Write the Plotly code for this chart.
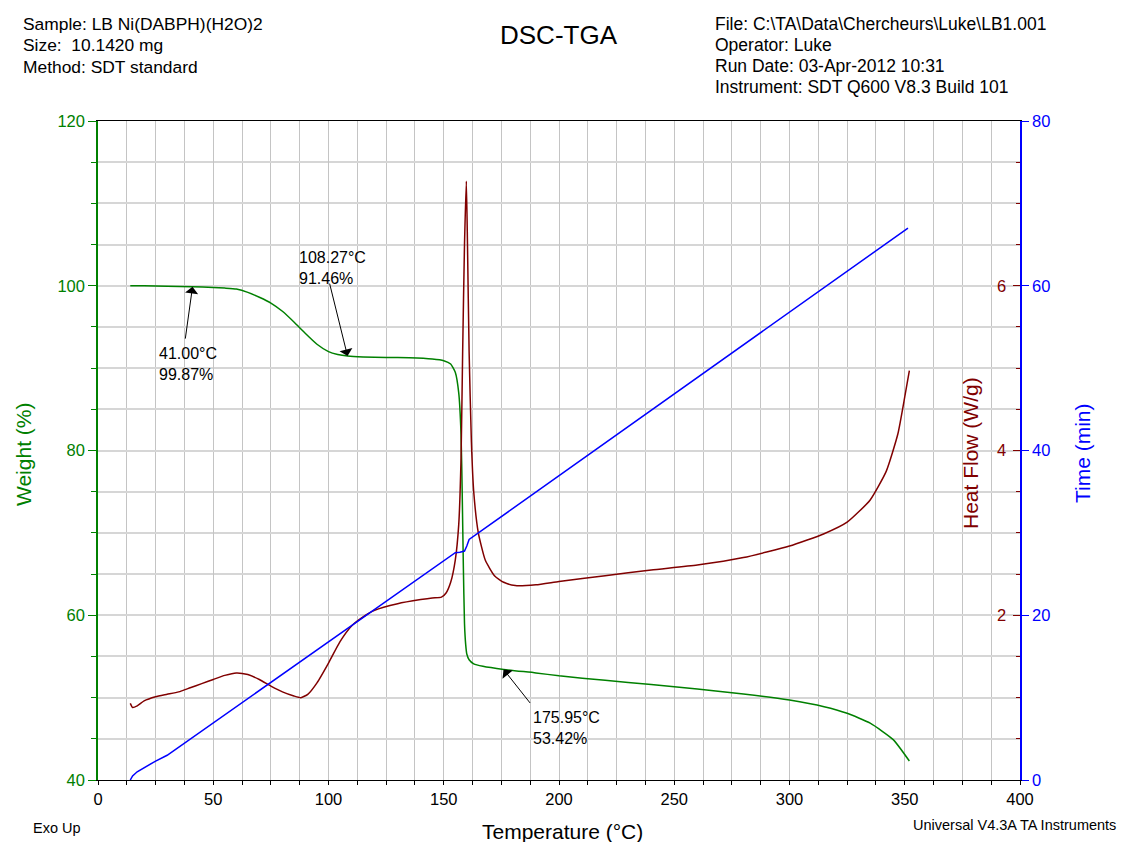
import plotly.graph_objects as go

# ---------------- data ----------------
weight_temp = [14, 20, 30, 41, 50, 55, 60, 65, 70, 75, 80, 85, 90, 95, 100, 104, 108.27,
               115, 125, 135, 145, 150, 153, 155, 156.5, 157.5, 158, 158.5, 159, 159.5,
               160, 161, 163, 167, 176, 190, 200, 220, 240, 260, 280, 300, 315, 325,
               335, 345, 352]
weight_pct = [100.0, 100.0, 99.95, 99.87, 99.8, 99.72, 99.6, 99.2, 98.6, 97.9, 96.9, 95.6,
              94.2, 92.9, 92.0, 91.65, 91.46, 91.35, 91.3, 91.25, 91.1, 90.9, 90.5, 89.5,
              87.0, 82.0, 75.0, 66.0, 59.0, 56.5, 55.3, 54.6, 54.1, 53.8, 53.42, 53.0,
              52.65, 52.1, 51.6, 51.05, 50.45, 49.7, 48.9, 48.1, 46.9, 44.9, 42.3]

hf_temp = [14, 15, 17, 20, 25, 30, 35, 40, 45, 50, 55, 60, 65, 70, 75, 80, 85, 88, 91, 95,
           100, 105, 110, 115, 120, 130, 140, 145, 149, 151, 153, 155, 156.5, 157.5,
           158.2, 159, 159.8, 160.3, 161, 162, 163, 165, 168, 172, 176, 181, 190, 200,
           220, 240, 260, 280, 300, 315, 325, 335, 342, 347, 350, 352]
hf_wg = [0.93, 0.88, 0.9, 0.96, 1.01, 1.04, 1.07, 1.12, 1.17, 1.22, 1.27, 1.30, 1.28, 1.22,
         1.14, 1.07, 1.02, 1.0, 1.04, 1.18, 1.42, 1.68, 1.87, 1.98, 2.06, 2.14, 2.19, 2.21,
         2.22, 2.27, 2.4, 2.67, 3.1, 3.9, 5.2, 6.5, 7.27, 6.5, 5.2, 4.1, 3.5, 3.0, 2.67,
         2.48, 2.4, 2.36, 2.37, 2.41, 2.48, 2.55, 2.61, 2.7, 2.84, 2.99, 3.13, 3.4, 3.75,
         4.2, 4.65, 4.97]

time_temp = [14, 15, 17, 20, 25, 30, 155, 157, 159, 160, 161, 351.4]
time_min = [0.0, 0.5, 1.0, 1.5, 2.3, 3.0, 27.6, 27.65, 27.8, 28.4, 29.2, 67.0]

marks_temp = [41.00, 108.27, 175.95]
marks_weight = [99.87, 91.46, 53.42]

x_ticks = [0, 50, 100, 150, 200, 250, 300, 350, 400]
hf_ticks = [2, 4, 6]

header_left = ["Sample: LB Ni(DABPH)(H2O)2", "Size:  10.1420 mg", "Method: SDT standard"]
header_right = ["File: C:\\TA\\Data\\Chercheurs\\Luke\\LB1.001", "Operator: Luke",
                "Run Date: 03-Apr-2012 10:31", "Instrument: SDT Q600 V8.3 Build 101"]

GREEN = "#008000"
RED = "#800000"
BLUE = "#0000FF"
FONT = "Liberation Sans, Arial, sans-serif"

# plot area in pixels
L, R, T, B = 98, 1020, 121, 780
W, H = 1121, 842


def px(xp):
    return (xp - L) / (R - L)


def py(yp):
    return (B - yp) / (B - T)


fig = go.Figure()
fig.add_trace(go.Scatter(x=weight_temp, y=weight_pct, mode="lines",
                         line=dict(color=GREEN, width=1.5, shape="spline", smoothing=0.5),
                         yaxis="y", showlegend=False))
fig.add_trace(go.Scatter(x=hf_temp, y=hf_wg, mode="lines",
                         line=dict(color=RED, width=1.5, shape="spline", smoothing=0.5),
                         yaxis="y2", showlegend=False))
fig.add_trace(go.Scatter(x=time_temp, y=time_min, mode="lines",
                         line=dict(color=BLUE, width=1.5), yaxis="y3", showlegend=False))

annotations = []
# headers
for i, t in enumerate(header_left):
    annotations.append(dict(text=t, xref="paper", yref="paper", x=px(21), y=py(24 + 21.3 * i),
                            xanchor="left", yanchor="middle", showarrow=False,
                            font=dict(size=17.4, color="black", family=FONT)))
for i, t in enumerate(header_right):
    annotations.append(dict(text=t, xref="paper", yref="paper", x=px(713), y=py(24 + 21.1 * i),
                            xanchor="left", yanchor="middle", showarrow=False,
                            font=dict(size=17.5, color="black", family=FONT)))
annotations.append(dict(text="DSC-TGA", xref="paper", yref="paper", x=px(559), y=py(35),
                        xanchor="center", yanchor="middle", showarrow=False,
                        font=dict(size=26, color="black", family=FONT)))
annotations.append(dict(text="Exo Up", xref="paper", yref="paper", x=px(31), y=py(828),
                        xanchor="left", yanchor="middle", showarrow=False,
                        font=dict(size=14.5, color="black", family=FONT)))
annotations.append(dict(text="Universal V4.3A TA Instruments", xref="paper", yref="paper",
                        x=px(1118), y=py(825), xanchor="right", yanchor="middle",
                        showarrow=False, font=dict(size=14.5, color="black", family=FONT)))
annotations.append(dict(text="Temperature (°C)", xref="paper", yref="paper", x=px(562),
                        y=py(831), xanchor="center", yanchor="middle", showarrow=False,
                        font=dict(size=21, color="black", family=FONT)))
annotations.append(dict(text="Weight (%)", xref="paper", yref="paper", x=px(23), y=py(455),
                        xanchor="center", yanchor="middle", textangle=-90, showarrow=False,
                        font=dict(size=21, color=GREEN, family=FONT)))
annotations.append(dict(text="Heat Flow (W/g)", xref="paper", yref="paper", x=px(970), y=py(453),
                        xanchor="center", yanchor="middle", textangle=-90, showarrow=False,
                        font=dict(size=21, color=RED, family=FONT)))
annotations.append(dict(text="Time (min)", xref="paper", yref="paper", x=px(1082), y=py(453),
                        xanchor="center", yanchor="middle", textangle=-90, showarrow=False,
                        font=dict(size=21, color=BLUE, family=FONT)))

# arrows + labels for marked points
arrow_offsets = [(-7.4, 53.3), (-18.3, -74), (27.7, 35)]
label_shifts = [(-35.5, -56), (-50.6, 109), (27, -38)]
for (tx, wy), (ax, ay), (sx, sy) in zip(zip(marks_temp, marks_weight), arrow_offsets, label_shifts):
    annotations.append(dict(x=tx, y=wy, xref="x", yref="y", text="", showarrow=True,
                            ax=ax, ay=ay, arrowhead=1, arrowsize=2.2, arrowwidth=1,
                            arrowcolor="black"))
    annotations.append(dict(x=tx, y=wy, xref="x", yref="y",
                            text=f"{tx:.2f}°C<br>{wy:.2f}%", showarrow=False,
                            xanchor="left", yanchor="top", align="left",
                            xshift=sx, yshift=sy,
                            font=dict(size=16, color="black", family=FONT)))

fig.update_layout(
    width=W, height=H,
    margin=dict(l=L, r=W - R, t=T, b=H - B, pad=0),
    paper_bgcolor="white", plot_bgcolor="white",
    font=dict(family=FONT, size=16, color="black"),
    showlegend=False,
    annotations=annotations,
    xaxis=dict(
        range=[0, 400], tickmode="array", tickvals=x_ticks,
        ticktext=[str(v) for v in x_ticks],
        ticks="outside", ticklen=4, tickcolor="black",
        tickfont=dict(size=16.5, color="black"), showline=True, linecolor="black", linewidth=1,
        mirror=True, zeroline=False, showgrid=True, gridcolor="#c4c4c4", gridwidth=1,
        minor=dict(tickmode="linear", dtick=12.5, tick0=0, ticks="outside", ticklen=4,
                   tickcolor="black", showgrid=True, gridcolor="#c4c4c4", gridwidth=1),
    ),
    yaxis=dict(
        range=[40, 120], tick0=40, dtick=20, ticks="outside", ticklen=8, tickcolor=GREEN,
        tickfont=dict(size=16.5, color=GREEN), showline=True, linecolor=GREEN, linewidth=1.5,
        zeroline=False, showgrid=True, gridcolor="#d6d6d6", gridwidth=1.5,
        minor=dict(dtick=5, tick0=40, ticks="outside", ticklen=5, tickcolor=GREEN,
                   showgrid=True, gridcolor="#d6d6d6", gridwidth=1.5),
    ),
    yaxis2=dict(
        range=[0, 8], overlaying="y", side="right", anchor="x",
        tickmode="array", tickvals=hf_ticks, ticks="inside", ticklen=7, tickcolor=RED,
        ticklabelstandoff=-24, tickfont=dict(size=16.5, color=RED),
        showline=False, showgrid=False, zeroline=False,
        minor=dict(tickmode="linear", tick0=0, dtick=0.5, ticks="inside", ticklen=4,
                   tickcolor=RED, showgrid=False),
    ),
    yaxis3=dict(
        range=[0, 80], overlaying="y", side="right", anchor="x",
        tick0=0, dtick=20, ticks="outside", ticklen=7, tickcolor=BLUE,
        tickfont=dict(size=16.5, color=BLUE), showline=True, linecolor=BLUE, linewidth=1.5,
        showgrid=False, zeroline=False,
    ),
)

fig.write_html("out.html")
